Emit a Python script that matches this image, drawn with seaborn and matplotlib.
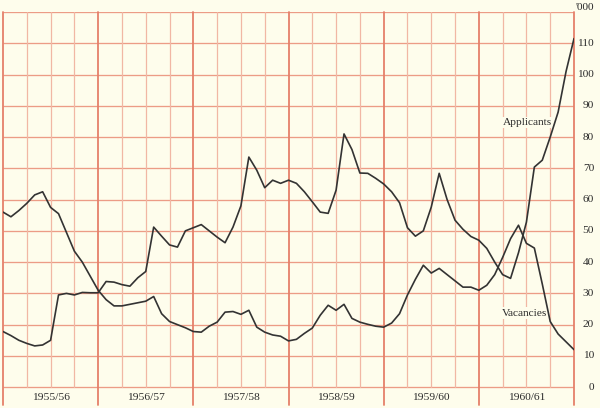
import matplotlib
matplotlib.use("Agg")
import matplotlib.pyplot as plt
import seaborn as sns
import pandas as pd
import numpy as np

# ---- data (thousands, monthly, mid-1955 to mid-1961) ----
years = ["1955/56", "1956/57", "1957/58", "1958/59", "1959/60", "1960/61"]
y_ticks = [0, 10, 20, 30, 40, 50, 60, 70, 80, 90, 100, 110]

applicants = [17.8, 16.5, 15.0, 14.0, 13.2, 13.5, 15.0, 29.5, 30.0, 29.5, 30.3, 30.2,
              30.2, 33.8, 33.6, 32.8, 32.3, 35.0, 37.0, 51.2, 48.3, 45.5, 44.8, 50.0,
              51.0, 52.0, 50.0, 48.0, 46.2, 51.2, 58.0, 73.6, 69.4, 63.8, 66.2, 65.2,
              66.2, 65.2, 62.5, 59.3, 56.0, 55.6, 63.0, 81.0, 76.0, 68.5, 68.4, 66.8,
              65.0, 62.5, 59.0, 51.0, 48.3, 50.0, 57.6, 68.4, 60.0, 53.4, 50.5, 48.2,
              47.0, 44.4, 40.0, 36.0, 34.8, 43.0, 52.8, 70.4, 72.6, 80.0, 88.0, 101.0,
              111.5]

vacancies = [56.0, 54.5, 56.5, 58.8, 61.5, 62.5, 57.5, 55.5, 49.5, 43.5, 40.0, 35.5,
             31.0, 28.0, 26.0, 26.0, 26.5, 27.0, 27.5, 29.0, 23.5, 21.0, 20.0, 19.0,
             17.8, 17.6, 19.5, 20.8, 24.0, 24.2, 23.3, 24.6, 19.2, 17.6, 16.7, 16.3,
             14.8, 15.3, 17.2, 18.9, 23.0, 26.2, 24.6, 26.5, 22.0, 20.8, 20.1, 19.5,
             19.2, 20.5, 23.5, 29.5, 34.5, 39.0, 36.5, 38.0, 36.0, 34.0, 32.0, 32.0,
             31.0, 32.6, 36.0, 41.5, 47.5, 51.8, 46.0, 44.5, 33.0, 21.0, 17.0, 14.5,
             12.0]

months = np.arange(len(applicants))
df = pd.DataFrame({"month": months, "Applicants": applicants, "Vacancies": vacancies})

# ---- style ----
bg = "#FEFDEC"
thin_v = "#F1B7A4"
thin_h = "#EC9C86"
thick = "#E5806A"
ink = "#333333"
txt = "#2a2a2a"

sns.set_style("white")
plt.rcParams["font.family"] = ["Liberation Serif", "DejaVu Serif"]

W, H = 600, 408
fig = plt.figure(figsize=(W / 100, H / 100), dpi=100, facecolor=bg)
x0, x1, ytop, ybot = 3, 574, 12, 405
ax = fig.add_axes([x0 / W, 1 - ybot / H, (x1 - x0) / W, (ybot - ytop) / H])
ax.set_facecolor(bg)

lo = -5.7
ax.set_xlim(0, 72)
ax.set_ylim(lo, 120)

# graph-paper grid
for v in range(0, 121, 10):
    ax.plot([0, 72], [v, v], color=thin_h, lw=0.95, zorder=1, solid_capstyle="butt")
for m in range(0, 73, 3):
    if m % 12 == 0:
        ax.plot([m, m], [lo, 120], color=thick, lw=1.3, zorder=1.2, clip_on=False)
    else:
        ax.plot([m, m], [0, 120], color=thin_v, lw=0.9, zorder=1)

sns.lineplot(data=df, x="month", y="Applicants", ax=ax, color=ink, lw=1.2, zorder=3)
sns.lineplot(data=df, x="month", y="Vacancies", ax=ax, color=ink, lw=1.2, zorder=3)

for s in ax.spines.values():
    s.set_visible(False)
ax.set_xticks([])
ax.set_yticks([])
ax.set_xlabel("")
ax.set_ylabel("")

# right-hand scale
tr = ax.get_yaxis_transform()
xr = (594 - x0) / (x1 - x0)
for v in y_ticks:
    ax.text(xr, v, str(v), transform=tr, ha="right", va="center", fontsize=8.2, color=txt)
ax.text(xr, 120 + 1.3, "'000", transform=tr, ha="right", va="center", fontsize=8.2, color=txt)

# year labels
for i, yl in enumerate(years):
    ax.text(12 * i + 6, -3.3, yl, ha="center", va="center", fontsize=8.2, color=txt)

# series labels
box = dict(facecolor=bg, edgecolor="none", pad=0.8)
ax.text(66.1, 84.7, "Applicants", ha="center", va="center", fontsize=8.2, color=txt, bbox=box, zorder=2)
ax.text(65.8, 23.7, "Vacancies", ha="center", va="center", fontsize=8.2, color=txt, bbox=box, zorder=2)

fig.savefig("out.png", dpi=100, facecolor=bg)
